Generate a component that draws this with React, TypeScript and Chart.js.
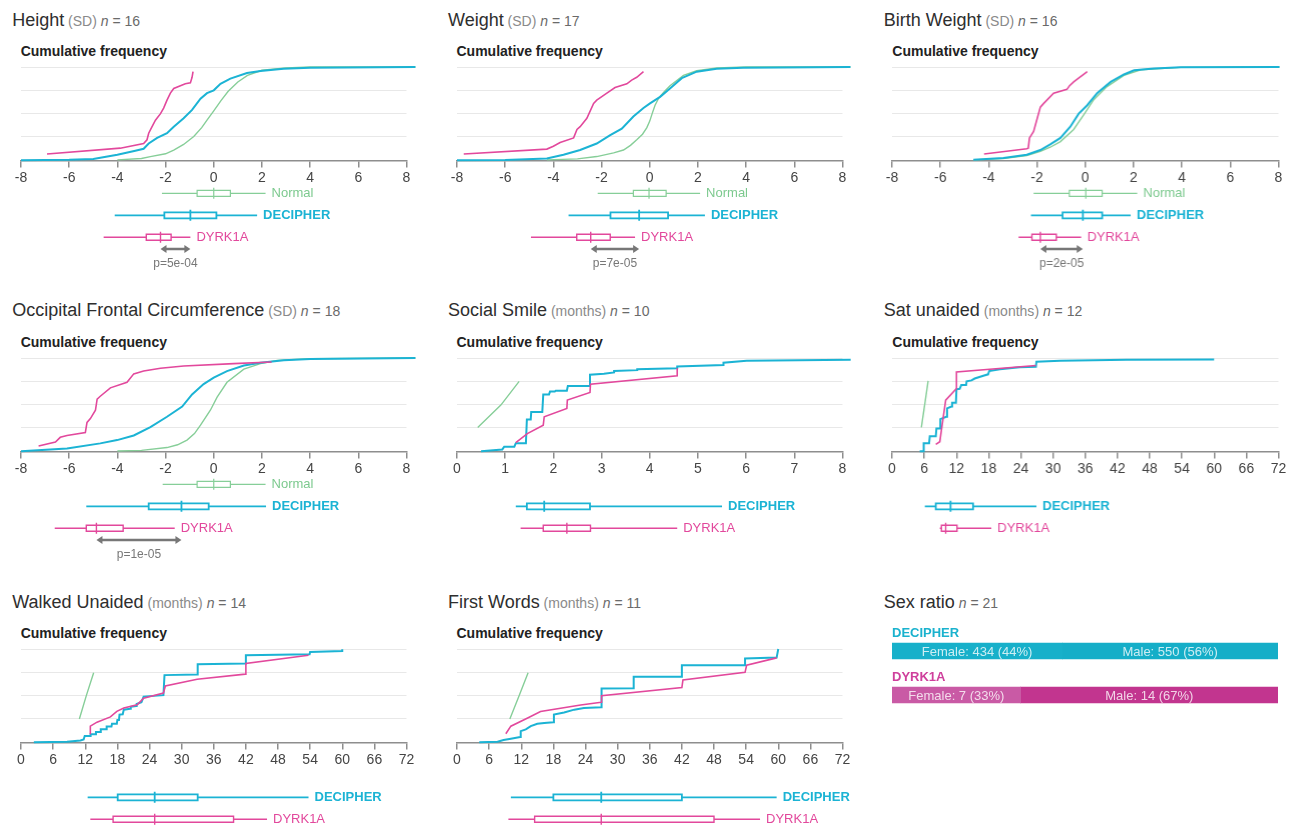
import React, { useEffect, useRef } from 'react';
import { Chart, registerables } from 'chart.js';

Chart.register(...registerables);

type Pt = [number, number];
type Box5 = [number, number, number, number, number]; // min, q1, median, q3, max

// ---------------- DATA ----------------
// Height (SD)
const heightNormal: Pt[] = [[-4, 0.005], [-3, 0.02], [-2.63, 0.04], [-2, 0.07], [-1.66, 0.11], [-1.25, 0.17], [-0.83, 0.255], [-0.5, 0.35], [-0.28, 0.43], [0, 0.53], [0.3, 0.64], [0.6, 0.74], [1, 0.84], [1.4, 0.91], [2, 0.965], [3, 0.99], [4, 1], [8.37, 1]];
const heightDecipher: Pt[] = [[-8, 0], [-6, 0.005], [-5, 0.015], [-4, 0.06], [-3.3, 0.1], [-2.91, 0.124], [-2.7, 0.18], [-2.35, 0.24], [-1.94, 0.29], [-1.66, 0.36], [-1.25, 0.45], [-0.9, 0.54], [-0.55, 0.66], [-0.28, 0.72], [0, 0.75], [0.28, 0.82], [0.69, 0.876], [1.38, 0.936], [1.94, 0.957], [2.9, 0.98], [4, 0.993], [8.37, 1]];
const heightDyrk1a: Pt[] = [[-6.92, 0.067], [-3.88, 0.13], [-2.91, 0.18], [-2.77, 0.22], [-2.7, 0.29], [-2.56, 0.36], [-2.42, 0.43], [-2.21, 0.5], [-2.08, 0.56], [-1.94, 0.645], [-1.8, 0.72], [-1.66, 0.77], [-1.18, 0.82], [-0.97, 0.83], [-0.9, 0.89], [-0.86, 0.95]];
const heightBoxNormal: Box5 = [-2.15, -0.69, 0, 0.69, 2.15];
const heightBoxDecipher: Box5 = [-4.11, -2.05, -0.97, 0.11, 1.8];
const heightBoxDyrk1a: Box5 = [-4.57, -2.8, -2.21, -1.77, -0.97];

// Weight (SD)
const weightNormal: Pt[] = [[-4.27, 0.005], [-3, 0.015], [-2.2, 0.04], [-1.5, 0.08], [-1.09, 0.11], [-0.8, 0.16], [-0.54, 0.22], [-0.3, 0.28], [-0.12, 0.35], [0, 0.42], [0.1, 0.5], [0.22, 0.59], [0.38, 0.67], [0.6, 0.735], [0.84, 0.8], [1.4, 0.91], [1.95, 0.96], [2.78, 0.99], [4, 1], [8.33, 1]];
const weightDecipher: Pt[] = [[-8, 0], [-6, 0.003], [-4.27, 0.02], [-3.58, 0.06], [-2.89, 0.11], [-2.2, 0.18], [-1.64, 0.27], [-1.16, 0.34], [-0.68, 0.47], [-0.26, 0.56], [0.01, 0.61], [0.43, 0.68], [0.84, 0.77], [1.33, 0.88], [1.95, 0.95], [2.78, 0.98], [3.88, 0.993], [8.33, 1]];
const weightDyrk1a: Pt[] = [[-7.72, 0.067], [-4.27, 0.12], [-4.0, 0.15], [-3.72, 0.19], [-3.16, 0.24], [-3.02, 0.33], [-2.89, 0.36], [-2.61, 0.45], [-2.33, 0.61], [-2.2, 0.645], [-1.78, 0.72], [-1.44, 0.78], [-0.95, 0.82], [-0.75, 0.86], [-0.54, 0.89], [-0.26, 0.95]];
const weightBoxNormal: Box5 = [-2.16, -0.68, -0.03, 0.68, 2.09];
const weightBoxDecipher: Box5 = [-3.37, -1.63, -0.44, 0.76, 2.29];
const weightBoxDyrk1a: Box5 = [-4.93, -3.03, -2.45, -1.64, -0.61];

// Birth Weight (SD)
const bwNormal: Pt[] = [[-4.63, 0.005], [-3.4, 0.02], [-2.42, 0.05], [-1.86, 0.096], [-1.45, 0.14], [-1.03, 0.2], [-0.48, 0.33], [-0.06, 0.49], [0.35, 0.65], [0.9, 0.79], [1.6, 0.91], [2.3, 0.97], [3.95, 0.996], [8.04, 1]];
const bwDecipher: Pt[] = [[-4.63, 0.007], [-3.39, 0.025], [-2.42, 0.06], [-1.86, 0.11], [-1.45, 0.17], [-1.03, 0.24], [-0.62, 0.36], [-0.27, 0.5], [0.08, 0.59], [0.49, 0.72], [1.05, 0.84], [1.6, 0.92], [2.02, 0.965], [2.85, 0.985], [3.95, 0.996], [8.04, 1]];
const bwDyrk1a: Pt[] = [[-4.19, 0.067], [-2.42, 0.124], [-2.36, 0.13], [-2.31, 0.24], [-2.14, 0.31], [-1.86, 0.57], [-1.72, 0.61], [-1.31, 0.72], [-0.76, 0.76], [-0.65, 0.8], [-0.48, 0.84], [0.08, 0.95]];
const bwBoxNormal: Box5 = [-2.14, -0.66, 0.02, 0.7, 2.15];
const bwBoxDecipher: Box5 = [-2.25, -0.94, -0.1, 0.7, 1.88];
const bwBoxDyrk1a: Box5 = [-2.76, -2.21, -1.86, -1.2, -0.17];

// Occipital Frontal Circumference (SD)
const ofcNormal: Pt[] = [[-4, 0.003], [-3, 0.01], [-1.94, 0.04], [-1.5, 0.07], [-1.11, 0.12], [-0.8, 0.19], [-0.55, 0.28], [-0.14, 0.44], [0.14, 0.58], [0.55, 0.74], [1.25, 0.88], [1.94, 0.94], [2.63, 0.975], [4, 0.993], [8.37, 1]];
const ofcDecipher: Pt[] = [[-8, 0], [-6.09, 0.03], [-4.71, 0.085], [-4.01, 0.12], [-3.32, 0.17], [-2.63, 0.26], [-1.94, 0.37], [-1.31, 0.48], [-0.9, 0.61], [-0.42, 0.72], [0, 0.79], [0.55, 0.86], [1.25, 0.92], [1.94, 0.95], [2.91, 0.975], [4.01, 0.99], [8.37, 1]];
const ofcDyrk1a: Pt[] = [[-7.27, 0.057], [-6.57, 0.1], [-6.37, 0.15], [-6.09, 0.17], [-5.33, 0.2], [-5.26, 0.31], [-5.12, 0.35], [-4.91, 0.44], [-4.84, 0.56], [-4.71, 0.59], [-4.29, 0.68], [-3.6, 0.74], [-3.32, 0.83], [-2.91, 0.86], [-2.21, 0.89], [-1.25, 0.915], [0.83, 0.94], [2.4, 0.957]];
const ofcBoxNormal: Box5 = [-2.12, -0.69, 0, 0.69, 2.15];
const ofcBoxDecipher: Box5 = [-5.29, -2.7, -1.34, -0.21, 2.17];
const ofcBoxDyrk1a: Box5 = [-6.6, -5.29, -4.87, -3.76, -1.62];

// Social Smile (months)
const smileNormal: Pt[] = [[0.43, 0.256], [0.91, 0.495], [1.29, 0.75]];
const smileDecipher: Pt[] = [[0.5, 0], [0.94, 0.02], [0.98, 0.05], [1.19, 0.05], [1.22, 0.085], [1.43, 0.085], [1.45, 0.34], [1.53, 0.34], [1.54, 0.42], [1.77, 0.42], [1.79, 0.61], [1.91, 0.61], [1.93, 0.64], [2.03, 0.64], [2.05, 0.65], [2.28, 0.65], [2.3, 0.7], [2.76, 0.7], [2.76, 0.82], [3.05, 0.83], [3.26, 0.845], [3.26, 0.86], [3.74, 0.87], [3.74, 0.88], [4.57, 0.89], [4.57, 0.91], [5.53, 0.925], [5.53, 0.95], [6.01, 0.97], [8.17, 0.98]];
const smileDyrk1a: Pt[] = [[1.22, 0.093], [1.46, 0.19], [1.79, 0.28], [1.81, 0.37], [2.28, 0.46], [2.29, 0.55], [2.76, 0.63], [2.77, 0.72], [4.57, 0.81], [4.57, 0.89]];
const smileBoxDecipher: Box5 = [1.22, 1.45, 1.81, 2.76, 5.5];
const smileBoxDyrk1a: Box5 = [1.32, 1.79, 2.28, 2.77, 4.57];

// Sat unaided (months)
const satNormal: Pt[] = [[5.47, 0.256], [6.72, 0.755]];
const satDecipher: Pt[] = [[5.16, 0], [5.8, 0], [5.9, 0.085], [6.9, 0.085], [7.03, 0.16], [8.15, 0.16], [8.27, 0.245], [9.0, 0.245], [9.0, 0.345], [10.1, 0.37], [10.26, 0.46], [11.07, 0.48], [11.19, 0.52], [11.9, 0.52], [12.0, 0.665], [12.6, 0.67], [12.9, 0.71], [13.8, 0.71], [13.9, 0.75], [14.8, 0.76], [15.4, 0.78], [17, 0.81], [17.9, 0.825], [18.1, 0.86], [20.1, 0.88], [23.8, 0.9], [26.8, 0.905], [26.9, 0.96], [31.3, 0.97], [43.7, 0.98], [60, 0.985]];
const satDyrk1a: Pt[] = [[8.15, 0.075], [8.9, 0.103], [9.2, 0.228], [10.0, 0.548], [12.0, 0.673], [12.0, 0.85], [26.8, 0.92]];
const satBoxDecipher: Box5 = [6.1, 8.15, 10.9, 15.1, 26.9];
const satBoxDyrk1a: Box5 = [8.9, 9.2, 10.0, 12.1, 18.5];

// Walked Unaided (months)
const walkedNormal: Pt[] = [[10.9, 0.25], [12.2, 0.5], [13.57, 0.746]];
const walkedDecipher: Pt[] = [[2.4, 0], [8.6, 0.007], [11.1, 0.02], [11.7, 0.03], [11.9, 0.067], [12.9, 0.067], [13.0, 0.085], [13.9, 0.085], [14.0, 0.11], [14.8, 0.11], [14.9, 0.14], [15.9, 0.14], [16.0, 0.17], [16.9, 0.17], [17.0, 0.2], [17.9, 0.2], [18.0, 0.24], [18.3, 0.24], [18.4, 0.297], [19.0, 0.3], [19.2, 0.35], [20.4, 0.36], [20.5, 0.38], [21.5, 0.39], [21.6, 0.41], [22.5, 0.43], [22.9, 0.49], [26.6, 0.505], [26.8, 0.72], [32.9, 0.728], [33.0, 0.837], [41.9, 0.845], [42.0, 0.933], [53.9, 0.943], [54.0, 0.968], [60, 0.979], [60, 0.996]];
const walkedDyrk1a: Pt[] = [[12.95, 0.085], [12.95, 0.173], [14.2, 0.216], [16.7, 0.272], [17.9, 0.332], [19.2, 0.367], [21.7, 0.403], [22.9, 0.473], [26.6, 0.527], [26.96, 0.604], [32.9, 0.675], [41.9, 0.731], [42, 0.845], [53.7, 0.933]];
const walkedBoxDecipher: Box5 = [12.45, 18.06, 24.97, 33.0, 53.7];
const walkedBoxDyrk1a: Box5 = [12.95, 17.2, 24.97, 39.7, 45.95];

// First Words (months)
const fwNormal: Pt[] = [[9.87, 0.25], [11.6, 0.5], [13.28, 0.746]];
const fwDecipher: Pt[] = [[4.16, 0], [7.57, 0.007], [8.7, 0.025], [10.06, 0.039], [11.8, 0.057], [11.9, 0.12], [12.85, 0.138], [13.78, 0.173], [15.0, 0.198], [16.3, 0.208], [18.0, 0.216], [18.1, 0.297], [20, 0.32], [21.9, 0.35], [23.7, 0.367], [26.94, 0.375], [27.0, 0.576], [33.0, 0.58], [33.0, 0.703], [42, 0.703], [42, 0.827], [53.8, 0.827], [53.8, 0.898], [59.7, 0.908], [60, 1.0]];
const fwDyrk1a: Pt[] = [[9.12, 0.092], [10.06, 0.173], [13.2, 0.26], [15.6, 0.33], [23.1, 0.4], [26.94, 0.43], [27, 0.5], [42, 0.587], [42.2, 0.668], [53.8, 0.75], [54.1, 0.827], [59.7, 0.905]];
const fwBoxDecipher: Box5 = [10.06, 18.0, 26.94, 42.0, 59.7];
const fwBoxDyrk1a: Box5 = [9.6, 14.5, 26.94, 48.0, 56.6];

// Sex ratio
const sexGroups = ['DECIPHER', 'DYRK1A'];
const sexFemale = [434, 7];
const sexMale = [550, 14];

// ---------------- STYLE / LAYOUT ----------------
const FONT = '"Liberation Sans", Arial, Helvetica, sans-serif';
const C_DEC = '#1BB3D4';
const C_DYR = '#E2489C';
const C_NOR = '#86CE98';
const C_GRID = '#e8e8e8';
const C_AXIS = '#8e8e8e';

const K = 93.3; // px per unit of cumulative frequency
const Y_MIN = -1.25;
const PAD_TOP = 8;
const PAD_L = 20;
const PAD_R = 12;
const AREA_W = 385.5;
const AREA_H = (1 - Y_MIN) * K;
const CANVAS_H = Math.ceil(PAD_TOP + AREA_H + 4);
const COL_X = [20.7, 456.5, 892.3];
const ROW_Y = [67, 357.8, 649];
const ROW_A = -33 / K;
const ROW_B = -55 / K;
const ROW_C = -77 / K;
const ROW_ARROW = -88.7 / K;
const ROW_P = -103 / K;
const BOX_H = 3 / K;
const MED_H = 5.5 / K;

interface PanelDef {
  title: string;
  unit?: string;
  n: number;
  col: number;
  row: number;
  xMin: number;
  xMax: number;
  xStep: number;
  normal: Pt[];
  decipher: Pt[];
  dyrk1a: Pt[];
  boxNormal?: Box5;
  boxDecipher: Box5;
  boxDyrk1a: Box5;
  p?: string;
}

const PANELS: PanelDef[] = [
  { title: 'Height', unit: 'SD', n: 16, col: 0, row: 0, xMin: -8, xMax: 8, xStep: 2, normal: heightNormal, decipher: heightDecipher, dyrk1a: heightDyrk1a, boxNormal: heightBoxNormal, boxDecipher: heightBoxDecipher, boxDyrk1a: heightBoxDyrk1a, p: 'p=5e-04' },
  { title: 'Weight', unit: 'SD', n: 17, col: 1, row: 0, xMin: -8, xMax: 8, xStep: 2, normal: weightNormal, decipher: weightDecipher, dyrk1a: weightDyrk1a, boxNormal: weightBoxNormal, boxDecipher: weightBoxDecipher, boxDyrk1a: weightBoxDyrk1a, p: 'p=7e-05' },
  { title: 'Birth Weight', unit: 'SD', n: 16, col: 2, row: 0, xMin: -8, xMax: 8, xStep: 2, normal: bwNormal, decipher: bwDecipher, dyrk1a: bwDyrk1a, boxNormal: bwBoxNormal, boxDecipher: bwBoxDecipher, boxDyrk1a: bwBoxDyrk1a, p: 'p=2e-05' },
  { title: 'Occipital Frontal Circumference', unit: 'SD', n: 18, col: 0, row: 1, xMin: -8, xMax: 8, xStep: 2, normal: ofcNormal, decipher: ofcDecipher, dyrk1a: ofcDyrk1a, boxNormal: ofcBoxNormal, boxDecipher: ofcBoxDecipher, boxDyrk1a: ofcBoxDyrk1a, p: 'p=1e-05' },
  { title: 'Social Smile', unit: 'months', n: 10, col: 1, row: 1, xMin: 0, xMax: 8, xStep: 1, normal: smileNormal, decipher: smileDecipher, dyrk1a: smileDyrk1a, boxDecipher: smileBoxDecipher, boxDyrk1a: smileBoxDyrk1a },
  { title: 'Sat unaided', unit: 'months', n: 12, col: 2, row: 1, xMin: 0, xMax: 72, xStep: 6, normal: satNormal, decipher: satDecipher, dyrk1a: satDyrk1a, boxDecipher: satBoxDecipher, boxDyrk1a: satBoxDyrk1a },
  { title: 'Walked Unaided', unit: 'months', n: 14, col: 0, row: 2, xMin: 0, xMax: 72, xStep: 6, normal: walkedNormal, decipher: walkedDecipher, dyrk1a: walkedDyrk1a, boxDecipher: walkedBoxDecipher, boxDyrk1a: walkedBoxDyrk1a },
  { title: 'First Words', unit: 'months', n: 11, col: 1, row: 2, xMin: 0, xMax: 72, xStep: 6, normal: fwNormal, decipher: fwDecipher, dyrk1a: fwDyrk1a, boxDecipher: fwBoxDecipher, boxDyrk1a: fwBoxDyrk1a },
];

function boxPoints(b: Box5, r: number) {
  const [mn, q1, md, q3, mx] = b;
  return [
    { x: mn, y: r }, { x: q1, y: r }, { x: q1, y: null },
    { x: q1, y: r - BOX_H }, { x: q3, y: r - BOX_H }, { x: q3, y: r + BOX_H }, { x: q1, y: r + BOX_H }, { x: q1, y: r - BOX_H }, { x: q3, y: r - BOX_H }, { x: q3, y: null },
    { x: q3, y: r }, { x: mx, y: r }, { x: mx, y: null },
    { x: md, y: r - MED_H }, { x: md, y: r + MED_H },
  ];
}

function curve(pts: Pt[], color: string, width: number, order: number) {
  return {
    data: pts.map(([x, y]) => ({ x, y })),
    borderColor: color,
    borderWidth: width,
    pointRadius: 0,
    tension: 0,
    fill: false,
    clip: false as any,
    order,
  };
}

function boxDs(b: Box5, r: number, color: string, width: number) {
  return {
    data: boxPoints(b, r),
    borderColor: color,
    borderWidth: width,
    pointRadius: 0,
    tension: 0,
    fill: false,
    spanGaps: false,
    clip: false as any,
    order: 0,
  };
}

function Title({ def, left, top }: { def: { title: string; unit?: string; n: number }; left: number; top: number }) {
  return (
    <div style={{ position: 'absolute', left, top, font: `18px ${FONT}`, lineHeight: '18px', color: '#2e2e2e', whiteSpace: 'nowrap' }}>
      {def.title}
      {def.unit ? <span style={{ fontSize: 14, color: '#8a8a8a' }}> ({def.unit})</span> : null}
      <span style={{ fontSize: 14, color: '#6a6a6a' }}> <i>n</i> = {def.n}</span>
    </div>
  );
}

function CdfPanel({ def }: { def: PanelDef }) {
  const ref = useRef<HTMLCanvasElement>(null);
  const ax = COL_X[def.col];
  const gy = ROW_Y[def.row];

  useEffect(() => {
    if (!ref.current) return;
    const datasets: any[] = [
      curve(def.normal, C_NOR, 1.4, 3),
      curve(def.decipher, C_DEC, 2, 2),
      curve(def.dyrk1a, C_DYR, 1.6, 1),
    ];
    const labels: { text: string; x: number; y: number; color: string; bold: boolean }[] = [];
    if (def.boxNormal) {
      datasets.push(boxDs(def.boxNormal, ROW_A, C_NOR, 1.2));
      labels.push({ text: 'Normal', x: def.boxNormal[4], y: ROW_A, color: '#7cc98e', bold: false });
    }
    datasets.push(boxDs(def.boxDecipher, ROW_B, C_DEC, 1.8));
    labels.push({ text: 'DECIPHER', x: def.boxDecipher[4], y: ROW_B, color: C_DEC, bold: true });
    datasets.push(boxDs(def.boxDyrk1a, ROW_C, C_DYR, 1.4));
    labels.push({ text: 'DYRK1A', x: def.boxDyrk1a[4], y: ROW_C, color: C_DYR, bold: false });

    const annot = {
      id: 'annot',
      afterDatasetsDraw(chart: any) {
        const { ctx } = chart;
        const xs = chart.scales.x;
        const ys = chart.scales.y;
        ctx.save();
        ctx.textBaseline = 'middle';
        ctx.textAlign = 'left';
        for (const l of labels) {
          ctx.font = `${l.bold ? 'bold ' : ''}13px ${FONT}`;
          ctx.fillStyle = l.color;
          ctx.fillText(l.text, xs.getPixelForValue(l.x) + 6, ys.getPixelForValue(l.y));
        }
        if (def.p) {
          const x1 = xs.getPixelForValue(def.boxDyrk1a[2]);
          const x2 = xs.getPixelForValue(def.boxDecipher[2]);
          const y = ys.getPixelForValue(ROW_ARROW);
          const ah = 6;
          const aw = 4;
          ctx.strokeStyle = '#777';
          ctx.fillStyle = '#777';
          ctx.lineWidth = 2.5;
          ctx.beginPath();
          ctx.moveTo(x1 + ah - 1, y);
          ctx.lineTo(x2 - ah + 1, y);
          ctx.stroke();
          ctx.beginPath();
          ctx.moveTo(x1, y);
          ctx.lineTo(x1 + ah, y - aw);
          ctx.lineTo(x1 + ah, y + aw);
          ctx.closePath();
          ctx.fill();
          ctx.beginPath();
          ctx.moveTo(x2, y);
          ctx.lineTo(x2 - ah, y - aw);
          ctx.lineTo(x2 - ah, y + aw);
          ctx.closePath();
          ctx.fill();
          ctx.font = `12px ${FONT}`;
          ctx.textAlign = 'center';
          ctx.fillText(def.p, (x1 + x2) / 2, ys.getPixelForValue(ROW_P));
        }
        ctx.restore();
      },
    };

    const chart = new Chart(ref.current, {
      type: 'line',
      data: { datasets },
      options: {
        animation: false,
        responsive: true,
        maintainAspectRatio: false,
        events: [],
        layout: { padding: { left: PAD_L, right: PAD_R, top: PAD_TOP, bottom: CANVAS_H - PAD_TOP - AREA_H } },
        plugins: { legend: { display: false }, tooltip: { enabled: false } },
        scales: {
          x: {
            type: 'linear',
            min: def.xMin,
            max: def.xMax,
            position: { y: 0 } as any,
            ticks: { stepSize: def.xStep, autoSkip: false, maxRotation: 0, padding: 3, color: '#444', font: { family: FONT, size: 14 } },
            grid: { drawOnChartArea: false, drawTicks: true, tickLength: 6, color: C_AXIS, lineWidth: 1.5 },
            border: { display: true, color: C_AXIS, width: 1.5 },
          },
          y: {
            type: 'linear',
            min: Y_MIN,
            max: 1,
            ticks: { display: false, stepSize: 0.25 },
            grid: {
              drawTicks: false,
              color: (c: any) => (c.tick && c.tick.value > 0.01 ? C_GRID : 'rgba(0,0,0,0)'),
              lineWidth: 1,
            },
            border: { display: false },
          },
        },
      } as any,
      plugins: [annot],
    });
    return () => chart.destroy();
  }, [def]);

  return (
    <>
      <Title def={def} left={ax - 8.5} top={gy - 56.5} />
      <div style={{ position: 'absolute', left: ax, top: gy - 22.8, font: `bold 14px ${FONT}`, lineHeight: '14px', color: '#222', whiteSpace: 'nowrap' }}>
        Cumulative frequency
      </div>
      <div style={{ position: 'absolute', left: ax - PAD_L, top: gy - PAD_TOP, width: PAD_L + AREA_W + PAD_R, height: CANVAS_H }}>
        <canvas ref={ref} />
      </div>
    </>
  );
}

function SexRatio() {
  const ref = useRef<HTMLCanvasElement>(null);
  const ax = COL_X[2];
  const gy = ROW_Y[2];
  useEffect(() => {
    if (!ref.current) return;
    const totals = sexFemale.map((f, i) => f + sexMale[i]);
    const labelColors = ['#1AB2CE', '#CF3F9C'];
    const plugin = {
      id: 'sexLabels',
      afterDatasetsDraw(chart: any) {
        const { ctx } = chart;
        const m0 = chart.getDatasetMeta(0);
        const m1 = chart.getDatasetMeta(1);
        ctx.save();
        ctx.textBaseline = 'middle';
        sexGroups.forEach((g, i) => {
          const f = m0.data[i];
          const m = m1.data[i];
          ctx.textAlign = 'left';
          ctx.font = `bold 13px ${FONT}`;
          ctx.fillStyle = labelColors[i];
          ctx.fillText(g, chart.chartArea.left, f.y - 18);
          ctx.font = `13px ${FONT}`;
          ctx.fillStyle = 'rgba(255,255,255,0.78)';
          ctx.textAlign = 'center';
          const fp = Math.round((100 * sexFemale[i]) / totals[i]);
          const mp = Math.round((100 * sexMale[i]) / totals[i]);
          ctx.fillText(`Female: ${sexFemale[i]} (${fp}%)`, (f.base + f.x) / 2, f.y + 1);
          ctx.fillText(`Male: ${sexMale[i]} (${mp}%)`, (m.base + m.x) / 2, m.y + 1);
        });
        ctx.restore();
      },
    };
    const chart = new Chart(ref.current, {
      type: 'bar',
      data: {
        labels: sexGroups,
        datasets: [
          { label: 'Female', data: sexFemale.map((f, i) => f / totals[i]), backgroundColor: ['#17B0CA', '#C95AA5'], borderWidth: 0, barThickness: 16 },
          { label: 'Male', data: sexMale.map((v, i) => v / totals[i]), backgroundColor: ['#15AEC8', '#C2358F'], borderWidth: 0, barThickness: 16 },
        ],
      },
      options: {
        indexAxis: 'y',
        animation: false,
        responsive: true,
        maintainAspectRatio: false,
        events: [],
        layout: { padding: { top: 14, left: 0, right: 0, bottom: 0 } },
        plugins: { legend: { display: false }, tooltip: { enabled: false } },
        scales: {
          x: { stacked: true, min: 0, max: 1, display: false },
          y: { stacked: true, display: false },
        },
      } as any,
      plugins: [plugin],
    });
    return () => chart.destroy();
  }, []);
  return (
    <>
      <Title def={{ title: 'Sex ratio', n: 21 }} left={ax - 8.5} top={gy - 56.5} />
      <div style={{ position: 'absolute', left: ax, top: gy - 34, width: 386, height: 102 }}>
        <canvas ref={ref} />
      </div>
    </>
  );
}

export default function App() {
  return (
    <div style={{ position: 'absolute', left: 0, top: 0, width: 1293, height: 828, overflow: 'hidden', background: '#fff' }}>
      {PANELS.map((p) => (
        <CdfPanel key={p.title} def={p} />
      ))}
      <SexRatio />
    </div>
  );
}
